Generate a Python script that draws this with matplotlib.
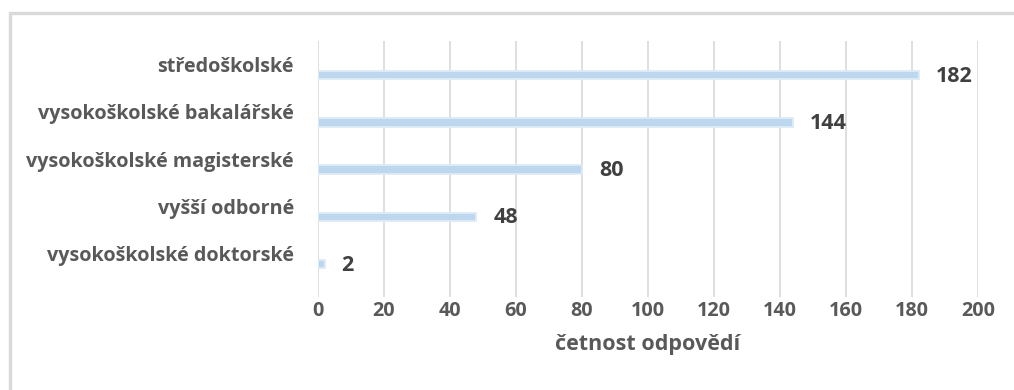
import matplotlib
matplotlib.use("Agg")
import matplotlib.pyplot as plt
from matplotlib.patches import Rectangle
from matplotlib.transforms import blended_transform_factory, ScaledTranslation

# vzdělání respondentů, shora dolů
categories = ["středoškolské", "vysokoškolské bakalářské", "vysokoškolské magisterské",
              "vyšší odborné", "vysokoškolské doktorské"]
counts = [182, 144, 80, 48, 2]
xticks = [0, 20, 40, 60, 80, 100, 120, 140, 160, 180, 200]

plt.rcParams['font.family'] = ['Open Sans', 'DejaVu Sans']
plt.rcParams['font.weight'] = 'bold'

W, H = 1014, 390
fig = plt.figure(figsize=(W / 100, H / 100), dpi=100)
ax = fig.add_axes([318 / W, 1 - 297 / H, (978 - 318) / W, (297 - 41) / H])

n = len(categories)
ypos = [n - 1 - i for i in range(n)]

ax.barh(ypos, counts, height=0.18, color='#BDD7EE', edgecolor='#DEEBF7',
        linewidth=1.3, zorder=3)

ax.set_xlim(0, 200)
ax.set_ylim(-0.693, n - 1 + 0.719)
ax.set_xticks(xticks)
ax.set_xticklabels([str(t) for t in xticks])
ax.tick_params(axis='x', length=0, pad=3, labelsize=14.2, labelcolor='#595959')
for lab in ax.get_xticklabels():
    lab.set_fontweight('bold')
ax.set_yticks([])
ax.grid(axis='x', color='#D9D9D9', linewidth=1.2, zorder=0)
for s in ax.spines.values():
    s.set_visible(False)

ax.set_xlabel("četnost odpovědí", fontsize=15.5, color='#595959', labelpad=9,
              fontweight='bold')

# popisky kategorií nad úrovní sloupců
lab_tr = blended_transform_factory(ax.transAxes, ax.transData) + \
    ScaledTranslation(-24 / 100, 3 / 100, fig.dpi_scale_trans)
for y, name in zip(ypos, categories):
    ax.text(0, y, name, transform=lab_tr, ha='right', va='baseline',
            fontsize=14.2, color='#595959', fontweight='bold')

# hodnoty za koncem sloupců
val_tr = ax.transData + ScaledTranslation(17 / 100, -1 / 100, fig.dpi_scale_trans)
for y, v in zip(ypos, counts):
    ax.text(v, y, str(v), transform=val_tr, ha='left', va='center',
            fontsize=15.5, color='#404040', fontweight='bold')

# rámeček grafu
fig.add_artist(Rectangle((9.5 / W, -0.2), 1.2, 1.2 - 13 / H, transform=fig.transFigure,
                         fill=False, edgecolor='#D9D9D9', linewidth=2.4))

fig.savefig("out.png", dpi=100)
